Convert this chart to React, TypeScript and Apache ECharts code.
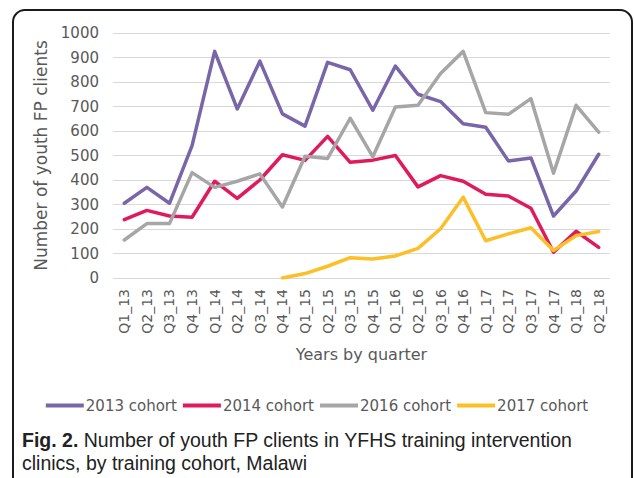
import React, { useEffect, useRef } from "react";
import * as echarts from "echarts";

const categories = [
  "Q1_13", "Q2_13", "Q3_13", "Q4_13", "Q1_14", "Q2_14", "Q3_14", "Q4_14",
  "Q1_15", "Q2_15", "Q3_15", "Q4_15", "Q1_16", "Q2_16", "Q3_16", "Q4_16",
  "Q1_17", "Q2_17", "Q3_17", "Q4_17", "Q1_18", "Q2_18",
];

const cohort2013 = [305, 370, 305, 540, 925, 690, 885, 670, 620, 880, 850, 685, 865, 750, 720, 630, 615, 478, 490, 253, 355, 505];
const cohort2014 = [238, 276, 253, 248, 395, 325, 400, 503, 480, 578, 472, 481, 500, 372, 418, 395, 342, 335, 285, 105, 191, 125];
const cohort2016 = [155, 222, 222, 430, 370, 395, 425, 290, 497, 488, 652, 495, 698, 705, 835, 925, 675, 668, 732, 428, 705, 595];
const cohort2017 = [null, null, null, null, null, null, null, 0, 18, 48, 83, 78, 90, 121, 201, 330, 152, 180, 205, 112, 173, 190];

const seriesNames = ["2013 cohort", "2014 cohort", "2016 cohort", "2017 cohort"];
const colors = ["#7866a9", "#e01b5c", "#a6a6a6", "#fcbf26"];

const FONT = "DejaVu Sans";

export default function App() {
  const ref = useRef<HTMLDivElement>(null);
  useEffect(() => {
    if (!ref.current) return;
    const chart = echarts.init(ref.current, null, { renderer: "svg" });
    const data = [cohort2013, cohort2014, cohort2016, cohort2017];
    chart.setOption({
      animation: false,
      textStyle: { fontFamily: FONT },
      grid: { left: 113, right: 24, top: 33, bottom: 200 },
      legend: {
        top: 393,
        left: "center",
        icon: "rect",
        itemWidth: 38,
        itemHeight: 4,
        itemGap: 6,
        textStyle: { fontFamily: FONT, fontSize: 15, color: "#595959", padding: [0, 0, 0, -3] },
        data: seriesNames,
      },
      xAxis: {
        type: "category",
        data: categories,
        boundaryGap: true,
        axisLine: { show: false },
        axisTick: { show: false },
        axisLabel: { rotate: 90, interval: 0, margin: 11, fontSize: 14, color: "#595959", fontFamily: FONT },
        name: "Years by quarter",
        nameLocation: "middle",
        nameGap: 68,
        nameTextStyle: { fontSize: 16, color: "#595959", fontFamily: FONT },
      },
      yAxis: {
        type: "value",
        min: 0,
        max: 1000,
        interval: 100,
        axisLine: { show: false },
        axisTick: { show: false },
        splitLine: { lineStyle: { color: "#d9d9d9", width: 1 } },
        axisLabel: {
          fontSize: 15,
          color: "#595959",
          margin: 14,
          fontFamily: FONT,
          formatter: (v: number) => String(v),
        },
        name: "Number of youth FP clients",
        nameLocation: "middle",
        nameGap: 50,
        nameTextStyle: { fontSize: 17, color: "#595959", fontFamily: FONT },
      },
      series: seriesNames.map((n, i) => ({
        name: n,
        type: "line",
        data: data[i],
        symbol: "none",
        color: colors[i],
        lineStyle: { width: 3.5, color: colors[i], cap: "round", join: "round" },
        connectNulls: false,
      })),
      graphic: [
        {
          type: "rect",
          shape: { x: 13, y: 10, width: 619, height: 520, r: 12 },
          style: { fill: "none", stroke: "#1a1a1a", lineWidth: 2 },
          silent: true,
        },
        {
          type: "text",
          left: 22,
          top: 428,
          style: {
            text: "{b|Fig. 2.} Number of youth FP clients in YFHS training intervention\nclinics, by training cohort, Malawi",
            fontFamily: "Liberation Sans",
            fontSize: 19.5,
            lineHeight: 23,
            fill: "#222222",
            rich: {
              b: { fontWeight: "bold", fontFamily: "Liberation Sans", fontSize: 19.5, fill: "#222222" },
            },
          },
        },
      ],
    });
    return () => chart.dispose();
  }, []);
  return (
    <div
      ref={ref}
      style={{ position: "fixed", left: 0, top: 0, width: 634, height: 478, background: "#fff" }}
    />
  );
}
